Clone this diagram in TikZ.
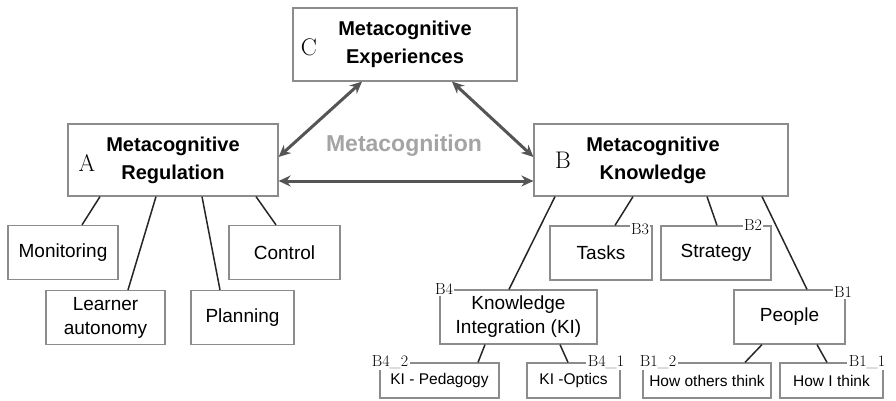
\documentclass[tikz,border=0pt]{standalone}
\usepackage{fontspec}
\setsansfont{Liberation Sans}
\usetikzlibrary{arrows.meta}
\definecolor{boxgray}{HTML}{8C8C8C}
\definecolor{arrowgray}{HTML}{555555}
\definecolor{titlegray}{HTML}{A4A4A4}
\begin{document}
\begin{tikzpicture}[x=1pt, y=-1pt]

    \tikzset{headbox/.style={%
      draw=boxgray,%
      line width=1.2pt,%
      rectangle,%
      align=center,%
      font=\sffamily\bfseries\fontsize{20}{28}\selectfont}%
    };
    \tikzset{subbox/.style={%
      draw=boxgray,%
      line width=1.2pt,%
      rectangle,%
      align=center,%
      minimum height=54pt,%
      font=\sffamily\fontsize{19}{24}\selectfont}%
    };
    \tikzset{leafbox/.style={subbox, minimum height=35pt,%
      font=\sffamily\fontsize{15.5}{18}\selectfont}};
    \tikzset{letter/.style={font=\fontsize{24}{24}\selectfont}};
    \tikzset{tag/.style={fill=white, inner sep=1.5pt,%
      font=\fontsize{16}{16}\selectfont}};
    \tikzset{link/.style={draw=black!85, line width=1.5pt}};
    \tikzset{both/.style={draw=arrowgray, line width=3pt,%
      {Stealth[length=12pt,width=11pt]}-{Stealth[length=12pt,width=11pt]}}};

    \useasboundingbox (0,0) rectangle (896,401);

    %%%%%%%%%%%%%%%
    % main blocks %
    %%%%%%%%%%%%%%%
    \path (405,44.5) node [headbox, minimum width=224pt, minimum height=73pt] (exp)
      {Metacognitive\\Experiences};
    \path (309,47) node [letter] (lc) {C};

    \path (173,160) node [headbox, minimum width=210pt, minimum height=72pt] (reg)
      {Metacognitive\\Regulation};
    \path (87,163) node [letter] (la) {A};

    \path (661,160) node [headbox, minimum width=254pt, minimum height=72pt] (know)
      {\hspace*{-16pt}Metacognitive\\\hspace*{-16pt}Knowledge};
    \path (563,160) node [letter] (lb) {B};

    \path (404,146) node [font=\sffamily\bfseries\fontsize{23}{23}\selectfont,
      text=titlegray] (meta) {Metacognition};

    \draw [both] ([yshift=3pt]reg.east) -- ([xshift=-43pt]exp.south);
    \draw [both] ([xshift=47pt]exp.south) -- ([yshift=3pt]know.west);
    \draw [both] ([yshift=-21pt]reg.east) -- ([yshift=-21pt]know.west);

    %%%%%%%%%%%%%%
    % regulation %
    %%%%%%%%%%%%%%
    \path (63,252.5) node [subbox, minimum width=110pt] (mon) {Monitoring};
    \path (105.5,317.5) node [subbox, minimum width=119pt] (aut) {Learner\\autonomy};
    \path (242.5,317.5) node [subbox, minimum width=103pt] (plan) {Planning};
    \path (284.5,252.5) node [subbox, minimum width=111pt] (ctrl) {Control};

    \draw [link] ([xshift=-73pt]reg.south) -- ([xshift=19pt]mon.north);
    \draw [link] ([xshift=-17pt]reg.south) -- ([xshift=22.5pt]aut.north);
    \draw [link] ([xshift=29pt]reg.south) -- ([xshift=-22.5pt]plan.north);
    \draw [link] ([xshift=83pt]reg.south) -- ([xshift=-8.5pt]ctrl.north);

    %%%%%%%%%%%%%
    % knowledge %
    %%%%%%%%%%%%%
    \path (601,253) node [subbox, minimum width=102pt] (task) {Tasks};
    \path (716,253) node [subbox, minimum width=110pt] (strat) {Strategy};
    \path (518.5,317) node [subbox, minimum width=157pt] (integ)
      {Knowledge\\Integration (KI)};
    \path (789.5,317) node [subbox, minimum width=111pt] (ppl) {People};

    \draw [link] ([xshift=-28pt]know.south) -- ([xshift=14pt]task.north);
    \draw [link] ([xshift=46pt]know.south) -- ([xshift=1pt]strat.north);
    \draw [link] ([xshift=-106pt]know.south) -- ([xshift=-9.5pt]integ.north);
    \draw [link] ([xshift=101pt]know.south) -- ([xshift=17.5pt]ppl.north);

    \path (439.5,380.5) node [leafbox, minimum width=119pt] (peda) {KI - Pedagogy};
    \path (573.5,380.5) node [leafbox, minimum width=93pt] (opt) {KI -Optics};
    \path (707,380.5) node [leafbox, minimum width=128pt] (oth) {How others think};
    \path (831.5,380.5) node [leafbox, minimum width=103pt] (self) {How I think};

    \draw [link] ([xshift=-33.5pt]integ.south) -- ([xshift=38.5pt]peda.north);
    \draw [link] ([xshift=41.5pt]integ.south) -- ([xshift=-5.5pt]opt.north);
    \draw [link] ([xshift=-27.5pt]ppl.south) -- ([xshift=38pt]oth.north);
    \draw [link] ([xshift=27.5pt]ppl.south) -- ([xshift=-4.5pt]self.north);

    %%%%%%%%
    % tags %
    %%%%%%%%
    \path (640,229) node [tag] (tb3) {B3};
    \path (753,225) node [tag] (tb2) {B2};
    \path (444,289) node [tag] (tb4) {B4};
    \path (843,292) node [tag] (tb1) {B1};
    \path (390,362) node [tag] (tb42) {B4\_2};
    \path (606,362) node [tag] (tb41) {B4\_1};
    \path (658,362) node [tag] (tb12) {B1\_2};
    \path (867,362) node [tag] (tb11) {B1\_1};

  \end{tikzpicture}
\end{document}
